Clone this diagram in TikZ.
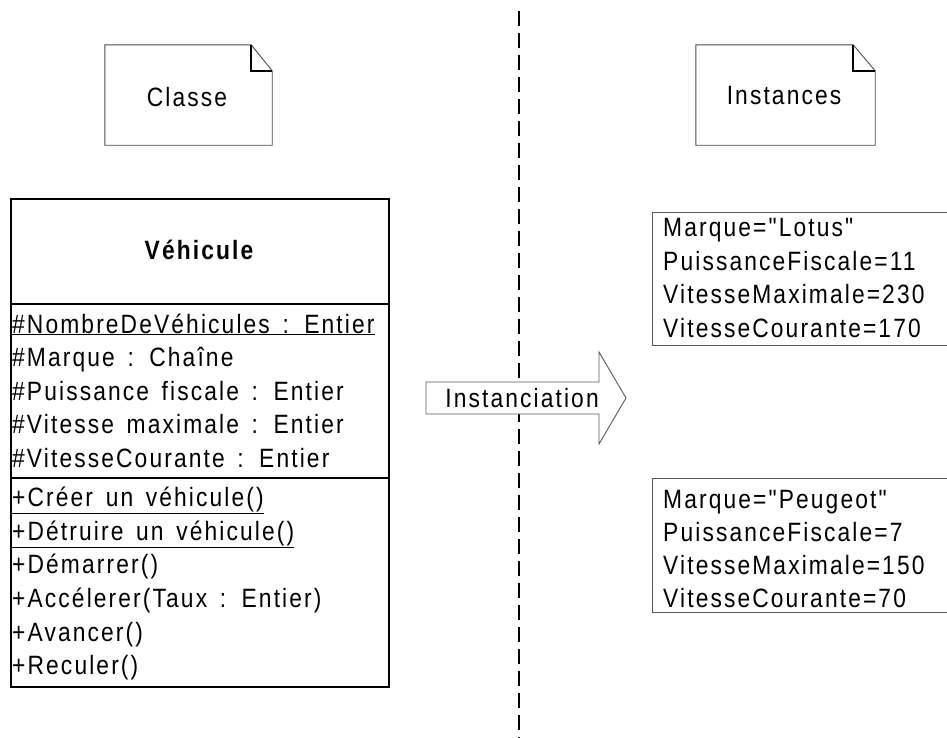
\documentclass[tikz,border=0pt]{standalone}
\usepackage{fontspec}
\setmainfont{Liberation Sans}[LetterSpace=8,FakeStretch=0.86,WordSpace=1.5,Ligatures=TeXOff]
\newcommand{\fsz}{\fontsize{26.5}{30}\selectfont}
\begin{document}
\begin{tikzpicture}[x=1pt,y=-1pt,
  txt/.style={anchor=base west, inner sep=0pt, font=\fsz, text=black},
  ctxt/.style={inner sep=0pt, font=\fsz, text=black},
  compart/.style={draw=black, line width=1.6pt, anchor=north west, minimum width=378pt, inner sep=0pt},
  instbox/.style={draw=black!65, line width=0.9pt, anchor=north west, minimum width=320pt, inner sep=0pt},
  notebox/.style={inner sep=0pt, minimum width=167pt, minimum height=100pt},
  noteline/.style={draw=black!70, line width=0.9pt},
  fold/.style={draw=black, line width=1.5pt},
  sep/.style={draw=black, line width=2pt, dash pattern=on 15pt off 7pt},
  arrowbody/.style={draw=black!65, line width=0.9pt, fill=white}
]
\useasboundingbox (0,0) rectangle (947,737);
\clip (0,0) rectangle (947,737);

% separator
\coordinate (septop) at (519,11);
\coordinate (sepbot) at (519,740);
\draw[sep] (septop) -- (sepbot);

% notes
\node[notebox] (classe) at (188.5,95) {};
\draw[noteline] (classe.north west) -- ([xshift=-21pt]classe.north east) -- ([yshift=-26pt]classe.north east) -- (classe.south east) -- (classe.south west) -- cycle;
\draw[fold] ([xshift=-21pt]classe.north east) -- ([xshift=-21pt,yshift=-26pt]classe.north east) -- ([yshift=-26pt]classe.north east);
\node[ctxt] (classetxt) at (187,97) {Classe};

\node[notebox, minimum width=179pt] (inst) at (785.5,95) {};
\draw[noteline] (inst.north west) -- ([xshift=-22pt]inst.north east) -- ([yshift=-26pt]inst.north east) -- (inst.south east) -- (inst.south west) -- cycle;
\draw[fold] ([xshift=-22pt]inst.north east) -- ([xshift=-22pt,yshift=-26pt]inst.north east) -- ([yshift=-26pt]inst.north east);
\node[ctxt] (insttxt) at (784,96) {Instances};

% class box
\node[compart, minimum height=105pt] (title) at (10,198) {};
\node[compart, minimum height=174pt] (attrs) at (10,303) {};
\node[compart, minimum height=209pt] (meths) at (10,477) {};
\node[ctxt, font=\fsz\bfseries] (vname) at (199,250) {Véhicule};

\node[txt] (a1) at (12,333) {\underline{\#NombreDeVéhicules : Entier}};
\node[txt] (a2) at (12,366.5) {\#Marque : Chaîne};
\node[txt] (a3) at (12,400) {\#Puissance fiscale : Entier};
\node[txt] (a4) at (12,433.5) {\#Vitesse maximale : Entier};
\node[txt] (a5) at (12,467) {\#VitesseCourante : Entier};

\node[txt] (m1) at (12,506) {\underline{+Créer un véhicule()}};
\node[txt] (m2) at (12,540) {\underline{+Détruire un véhicule()}};
\node[txt] (m3) at (12,573) {+Démarrer()};
\node[txt] (m4) at (12,607) {+Accélerer(Taux : Entier)};
\node[txt] (m5) at (12,641) {+Avancer()};
\node[txt] (m6) at (12,674) {+Reculer()};

% instanciation arrow
\coordinate (arrtail) at (426,398);
\coordinate (arrtip) at (626,398);
\draw[arrowbody] ([yshift=16pt]arrtail) -- (599,382) -- (599,352) -- (arrtip) -- (599,444) -- (599,414) -- ([yshift=-16pt]arrtail) -- cycle;
\node[ctxt] (instlabel) at (522,398) {Instanciation};

% instances
\node[instbox, minimum height=133pt] (lotus) at (652,212) {};
\node[txt] (l1) at (663,236) {Marque="Lotus"};
\node[txt] (l2) at (663,270) {PuissanceFiscale=11};
\node[txt] (l3) at (663,303.5) {VitesseMaximale=230};
\node[txt] (l4) at (663,337) {VitesseCourante=170};

\node[instbox, minimum height=134pt] (peugeot) at (652,478) {};
\node[txt] (p1) at (663,508) {Marque="Peugeot"};
\node[txt] (p2) at (663,541) {PuissanceFiscale=7};
\node[txt] (p3) at (663,574.5) {VitesseMaximale=150};
\node[txt] (p4) at (663,607.5) {VitesseCourante=70};
\end{tikzpicture}
\end{document}
